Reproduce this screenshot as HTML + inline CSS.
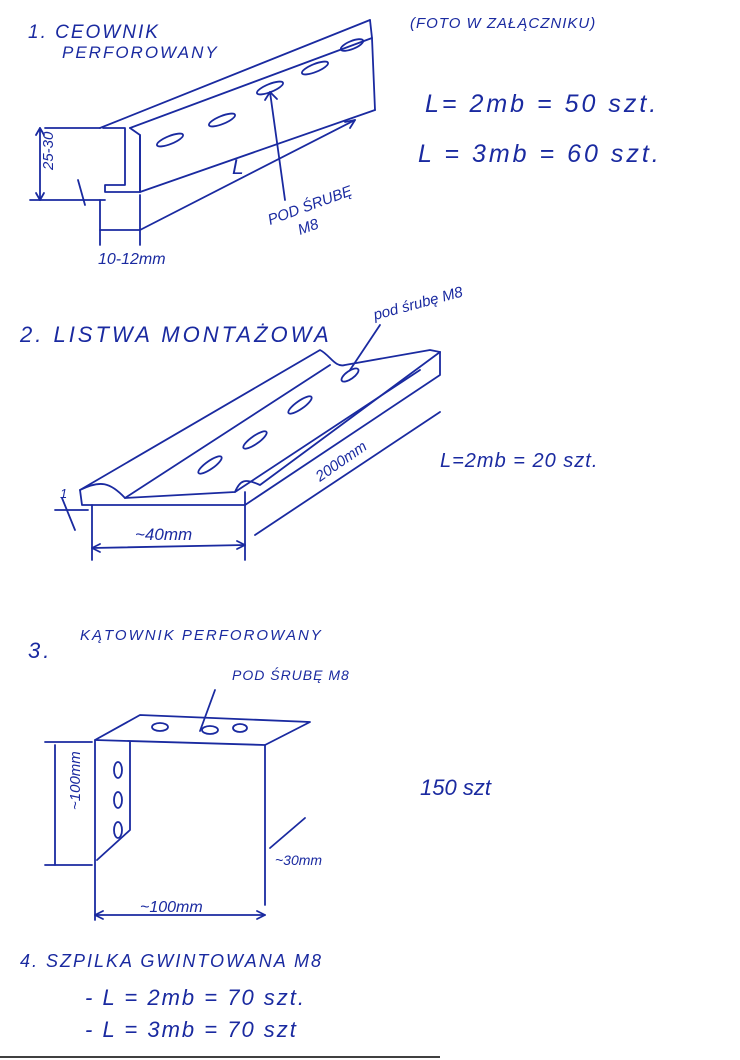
<!DOCTYPE html>
<html><head><meta charset="utf-8"><style>
html,body{margin:0;padding:0;background:#fff;}
svg{display:block;}
text{font-family:"Liberation Sans",sans-serif;font-style:italic;fill:#1a2aa0;}
.s{stroke:#1a2aa0;stroke-width:1.8;fill:none;stroke-linecap:round;stroke-linejoin:round;}
</style></head><body>
<svg width="740" height="1060" viewBox="0 0 740 1060" xmlns="http://www.w3.org/2000/svg">
<text x="28" y="38" font-size="19" letter-spacing="2">1.  CEOWNIK</text>
<text x="62" y="58" font-size="17" letter-spacing="2">PERFOROWANY</text>
<text x="410" y="28" font-size="15" letter-spacing="1">(FOTO W ZAŁĄCZNIKU)</text>
<text x="425" y="112" font-size="25" letter-spacing="3">L= 2mb  =  50 szt.</text>
<text x="418" y="162" font-size="25" letter-spacing="3">L = 3mb =  60 szt.</text>
<g class="s">
<path d="M100 128 L370 20"/>
<path d="M130 128 L372 38"/>
<path d="M370 20 L372 38 L375 110"/>
<path d="M103 128 L125 128 L125 185 L105 185 L105 192 L140 192 L140 135 L130 128"/>
<path d="M140 192 L375 110"/>
<path d="M140 135 L140 192"/>
<ellipse cx="170" cy="140" rx="14" ry="4" transform="rotate(-22 170 140)"/>
<ellipse cx="222" cy="120" rx="14" ry="4" transform="rotate(-22 222 120)"/>
<ellipse cx="270" cy="88" rx="14" ry="4" transform="rotate(-22 270 88)"/>
<ellipse cx="315" cy="68" rx="14" ry="4" transform="rotate(-22 315 68)"/>
<ellipse cx="352" cy="45" rx="12" ry="4" transform="rotate(-22 352 45)"/>
<path d="M270 92 L285 200"/><path d="M265 100 L270 92 L277 99"/>
<path d="M40 128 L40 200"/><path d="M36 135 L40 128 L44 135"/><path d="M36 193 L40 200 L44 193"/>
<path d="M45 128 L100 128"/><path d="M30 200 L105 200"/>
<path d="M100 200 L100 245"/><path d="M140 195 L140 245"/>
<path d="M100 230 L140 230"/>
<path d="M140 230 L355 120"/><path d="M345 122 L355 120 L350 128"/>
<path d="M78 180 L85 205"/>
</g>
<text x="232" y="174" font-size="21">L</text>
<text x="18" y="185" font-size="15" transform="rotate(-90 28 160)">25-30</text>
<text x="98" y="264" font-size="16">10-12mm</text>
<text x="270" y="225" font-size="15" transform="rotate(-20 270 225)">POD ŚRUBĘ</text>
<text x="300" y="235" font-size="15" transform="rotate(-20 300 235)">M8</text>
<text x="20" y="342" font-size="22" letter-spacing="3">2.  LISTWA MONTAŻOWA</text>
<text x="375" y="320" font-size="15" transform="rotate(-15 375 320)">pod śrubę M8</text>
<text x="440" y="467" font-size="20" letter-spacing="1">L=2mb  =  20 szt.</text>
<g class="s">
<path d="M80 490 C100 480 110 482 125 498 L235 492 C240 480 245 478 260 485 L440 352"/>
<path d="M80 490 L320 350 C330 355 335 368 345 365 L430 350 L440 352"/>
<path d="M125 498 L330 365"/>
<path d="M235 492 L420 370"/>
<path d="M80 490 L82 505 L245 505 L440 375 L440 352"/>
<path d="M245 505 L245 492"/>
<ellipse cx="350" cy="375" rx="10" ry="4" transform="rotate(-35 350 375)"/>
<ellipse cx="300" cy="405" rx="14" ry="4" transform="rotate(-35 300 405)"/>
<ellipse cx="255" cy="440" rx="14" ry="4" transform="rotate(-35 255 440)"/>
<ellipse cx="210" cy="465" rx="14" ry="4" transform="rotate(-35 210 465)"/>
<path d="M350 370 L380 325"/>
<path d="M92 505 L92 560"/><path d="M245 505 L245 560"/>
<path d="M92 548 L245 545"/><path d="M100 544 L92 548 L100 552"/><path d="M237 541 L245 545 L237 549"/>
<path d="M255 535 L440 412"/>
<path d="M62 498 L75 530"/><path d="M55 510 L88 510"/>
</g>
<text x="135" y="540" font-size="17">~40mm</text>
<text x="320" y="482" font-size="15" transform="rotate(-35 320 482)">2000mm</text>
<text x="60" y="498" font-size="13">1</text>
<text x="28" y="658" font-size="22" letter-spacing="3">3.</text>
<text x="80" y="640" font-size="15" letter-spacing="2">KĄTOWNIK PERFOROWANY</text>
<text x="232" y="680" font-size="14" letter-spacing="1">POD ŚRUBĘ M8</text>
<text x="420" y="795" font-size="22">150 szt</text>
<g class="s">
<path d="M95 740 L265 745 L310 722 L140 715 Z"/>
<path d="M95 740 L95 920"/><path d="M130 742 L130 830 L97 860"/>
<path d="M265 745 L265 905"/>
<ellipse cx="160" cy="727" rx="8" ry="4"/>
<ellipse cx="210" cy="730" rx="8" ry="4"/>
<ellipse cx="240" cy="728" rx="7" ry="4"/>
<path d="M200 731 L215 690"/>
<ellipse cx="118" cy="770" rx="4" ry="8"/>
<ellipse cx="118" cy="800" rx="4" ry="8"/>
<ellipse cx="118" cy="830" rx="4" ry="8"/>
<path d="M45 742 L92 742"/><path d="M45 865 L92 865"/>
<path d="M55 745 L55 865"/>
<path d="M95 915 L265 915"/><path d="M103 911 L95 915 L103 919"/><path d="M257 911 L265 915 L257 919"/>
<path d="M270 848 L305 818"/>
</g>
<text x="40" y="850" font-size="15" transform="rotate(-90 40 810)">~100mm</text>
<text x="275" y="865" font-size="14">~30mm</text>
<text x="140" y="912" font-size="16">~100mm</text>
<text x="20" y="967" font-size="18" letter-spacing="2">4.  SZPILKA GWINTOWANA  M8</text>
<text x="85" y="1005" font-size="22" letter-spacing="2">- L = 2mb  =  70 szt.</text>
<text x="85" y="1037" font-size="22" letter-spacing="2">- L = 3mb  =  70 szt</text>
<line x1="0" y1="1057" x2="440" y2="1057" stroke="#000" stroke-width="1.5"/>
</svg>
</body></html>
